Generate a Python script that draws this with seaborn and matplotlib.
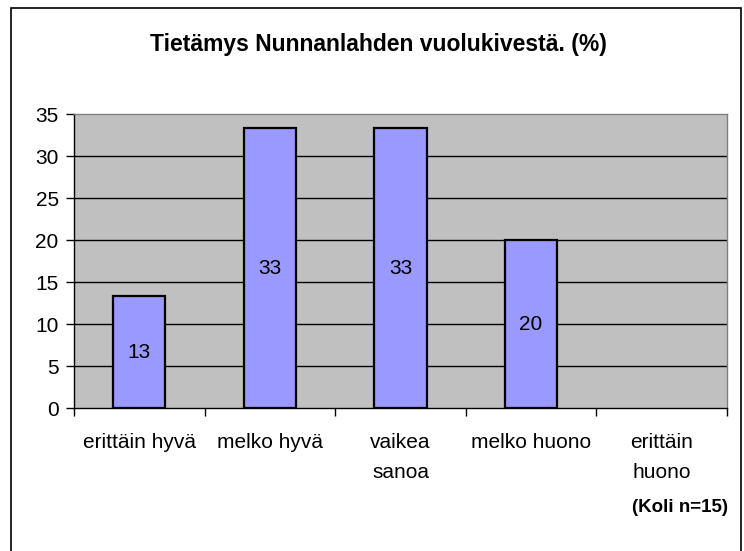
import matplotlib
matplotlib.use("Agg")
import matplotlib.pyplot as plt
import matplotlib.patches as mpatches
import numpy as np
import pandas as pd
import seaborn as sns

# Data
categories = ["erittäin hyvä", "melko hyvä", "vaikea\nsanoa", "melko huono", "erittäin\nhuono"]
values = [13.33, 33.33, 33.33, 20.0, 0.0]
value_labels = ["13", "33", "33", "20", ""]
y_ticks = [0, 5, 10, 15, 20, 25, 30, 35]

TITLE = "Tietämys Nunnanlahden vuolukivestä. (%)"
NOTE = "(Koli n=15)"

sns.set_theme(style="white")
plt.rcParams["font.family"] = ["Liberation Sans", "DejaVu Sans"]
plt.rcParams["text.color"] = "black"
plt.rcParams["xtick.labelcolor"] = "black"
plt.rcParams["ytick.labelcolor"] = "black"

df = pd.DataFrame({"category": categories, "value": values})

fig = plt.figure(figsize=(7.44, 5.51), dpi=100)
ax = fig.add_axes([74 / 744, 1 - 408 / 551, (727 - 74) / 744, (408 - 114) / 551])

ax.set_facecolor("#C0C0C0")
for y in y_ticks[1:-1]:
    ax.axhline(y, color="black", linewidth=1.0, zorder=0.5)

sns.barplot(data=df, x="category", y="value", color="#9999FF", saturation=1,
            edgecolor="black", linewidth=1.6, width=0.4, ax=ax, zorder=2)

# a zero-height bar shows nothing in the original
for patch, v in zip(ax.patches, values):
    if v == 0:
        patch.set_visible(False)

for i, (v, lab) in enumerate(zip(values, value_labels)):
    if lab:
        ax.text(i, v / 2, lab, ha="center", va="center", fontsize=15, zorder=3)

ax.set_xlim(-0.5, len(categories) - 0.5)
ax.set_ylim(0, 35)
ax.set_yticks(y_ticks)
ax.set_yticklabels([str(t) for t in y_ticks], fontsize=15)
ax.tick_params(axis="y", direction="out", length=6, width=1, color="black", pad=5, left=True)

# Excel style: ticks between categories, labels in the middle
ax.set_xticks(np.arange(-0.5, len(categories), 1.0))
ax.set_xticklabels([])
ax.tick_params(axis="x", which="major", direction="out", length=6, width=1, color="black", bottom=True)
ax.set_xticks(np.arange(len(categories)), minor=True)
ax.set_xticklabels(categories, minor=True, fontsize=15, linespacing=1.7)
ax.tick_params(axis="x", which="minor", length=0, pad=18)
ax.set_xlabel("")
ax.set_ylabel("")

for side in ["top", "right"]:
    ax.spines[side].set_color("#808080")
    ax.spines[side].set_linewidth(1.0)
for side in ["left", "bottom"]:
    ax.spines[side].set_color("black")
    ax.spines[side].set_linewidth(1.0)

fig.text(378 / 744, 1 - 44 / 551, TITLE, ha="center", va="center",
         fontsize=16.5, fontweight="bold")
fig.text(728 / 744, 1 - 507 / 551, NOTE, ha="right", va="center",
         fontsize=13.5, fontweight="bold")

# outer chart border
border = mpatches.Rectangle((11 / 744, -0.05), (741 - 11) / 744, (0.05 + 1 - 8 / 551),
                            transform=fig.transFigure, fill=False,
                            edgecolor="black", linewidth=1.2)
fig.patches.append(border)

fig.savefig("out.png", dpi=100)
